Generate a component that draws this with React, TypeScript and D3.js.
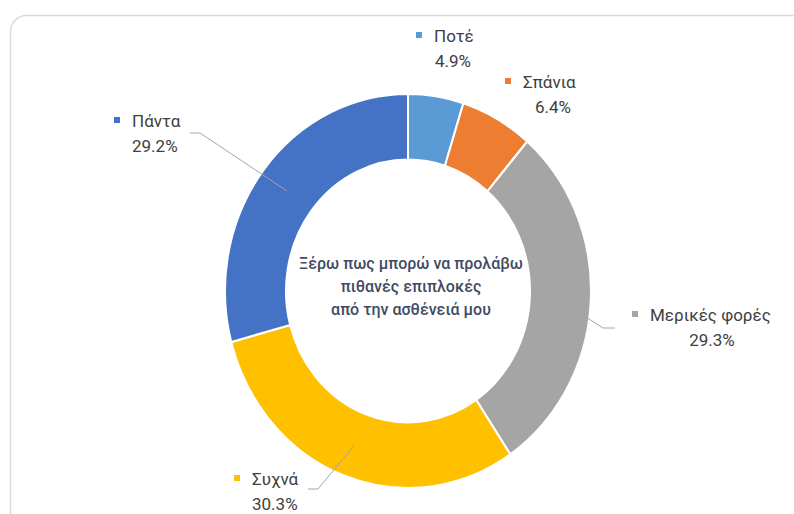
import React from 'react';
import * as d3 from 'd3';

// answers (share of respondents, %)
const categories = ['Ποτέ', 'Σπάνια', 'Μερικές φορές', 'Συχνά', 'Πάντα'];
const values = [4.9, 6.4, 29.3, 30.3, 29.2];
const valueLabels = ['4.9%', '6.4%', '29.3%', '30.3%', '29.2%'];
const colors = ['#5B9BD5', '#ED7D31', '#A5A5A5', '#FFC000', '#4472C4'];
const centerLines = ['Ξέρω πως μπορώ να προλάβω', 'πιθανές επιπλοκές', 'από την ασθένειά μου'];

type Slice = { name: string; value: number; label: string; color: string };
const slices: Slice[] = categories.map((name, i) => ({
  name,
  value: values[i],
  label: valueLabels[i],
  color: colors[i],
}));

// label placement, by category
const labelPos: Record<string, { x: number; y: number; x2: number; anchor2: string; leader?: [number, number] }> = {
  'Ποτέ': { x: 434, y: 42, x2: 435, anchor2: 'start' },
  'Σπάνια': { x: 523, y: 88, x2: 535, anchor2: 'start' },
  'Μερικές φορές': { x: 650, y: 321, x2: 712, anchor2: 'middle', leader: [615, 328] },
  'Συχνά': { x: 252, y: 485, x2: 252, anchor2: 'start', leader: [308, 489] },
  'Πάντα': { x: 132, y: 127, x2: 132, anchor2: 'start', leader: [190, 133] },
};

const W = 794;
const H = 514;
const cx = 408;
const cy = 291;
const outerR = 183;
const innerR = 122;
const sy = 1.077; // picture is a little taller than wide

const labelFont = 'Roboto, "Noto Sans", sans-serif';

export default function App() {
  const pie = d3
    .pie<Slice>()
    .sort(null)
    .value(d => d.value);
  const arcs = pie(slices);

  const arc = d3.arc<d3.PieArcDatum<Slice>>().innerRadius(innerR).outerRadius(outerR);
  const midArc = d3
    .arc<d3.PieArcDatum<Slice>>()
    .innerRadius((innerR + outerR) / 2)
    .outerRadius((innerR + outerR) / 2);

  return (
    <svg
      width={W}
      height={H}
      style={{ position: 'absolute', left: 0, top: 0, background: '#fff' }}
    >
      <rect x={10.5} y={15.5} width={810} height={520} rx={16} fill="#fff" stroke="#d9d9d9" strokeWidth={1.5} />

      <g transform={`translate(${cx},${cy}) scale(1,${sy})`}>
        {arcs.map(a => (
          <path key={a.data.name} d={arc(a) || ''} fill={a.data.color} stroke="#fff" strokeWidth={2} />
        ))}
      </g>

      {/* leader lines */}
      {arcs.map(a => {
        const p = labelPos[a.data.name];
        if (!p.leader) return null;
        const [mx, my] = midArc.centroid(a);
        const ex = cx + mx;
        const ey = cy + my * sy;
        const [lx, ly] = p.leader;
        const kx = lx < cx ? lx + 10 : lx - 12;
        return (
          <polyline
            key={`l-${a.data.name}`}
            points={`${lx},${ly} ${kx},${ly} ${ex},${ey}`}
            fill="none"
            stroke="#a6a6a6"
            strokeWidth={1}
          />
        );
      })}

      {/* labels */}
      {arcs.map(a => {
        const p = labelPos[a.data.name];
        return (
          <g key={`t-${a.data.name}`} fontFamily={labelFont} fontSize={17} fill="#404040">
            <rect x={p.x - 18} y={p.y - 10} width={6} height={6} fill={a.data.color} />
            <text x={p.x} y={p.y}>{a.data.name}</text>
            <text x={p.x2} y={p.y + 25} textAnchor={p.anchor2}>{a.data.label}</text>
          </g>
        );
      })}

      {/* centre title */}
      <g fontFamily={labelFont} fontSize={16} fontWeight={500} fill="#3F4B63" textAnchor="middle">
        {centerLines.map((t, i) => (
          <text key={i} x={cx + 3} y={269 + i * 23}>{t}</text>
        ))}
      </g>
    </svg>
  );
}
